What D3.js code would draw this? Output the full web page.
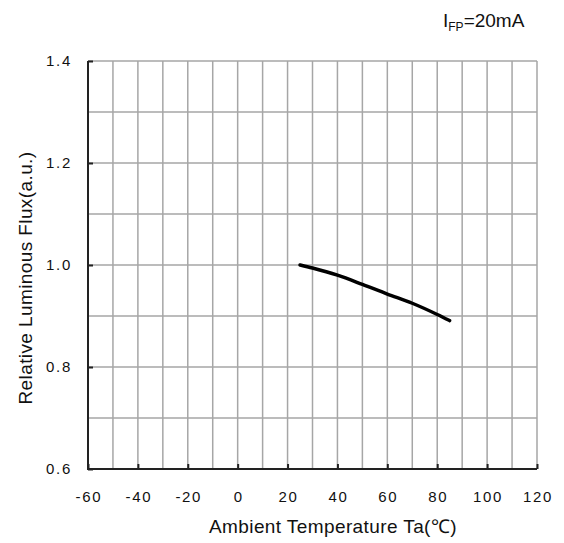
<!DOCTYPE html>
<html>
<head>
<meta charset="utf-8">
<script src="https://cdn.jsdelivr.net/npm/d3@7"></script>
<style>
	body { margin: 0; background: #fff; }
	svg text { font-family: "Liberation Sans", Arial, sans-serif; fill: #111; }
</style>
</head>
<body>
<div class="chart"></div>
<script>
// curve
const temps = [25, 30, 40, 50, 60, 70, 80, 85]
const flux = [1.0, 0.994, 0.980, 0.962, 0.943, 0.925, 0.903, 0.891]

const xTicks = [-60, -40, -20, 0, 20, 40, 60, 80, 100, 120]
const yTicks = [0.6, 0.8, 1.0, 1.2, 1.4]

const width = 564
const height = 543
const margin = { top: 61, right: 27, bottom: 74, left: 88 }

const x = d3.scaleLinear().domain([-60, 120]).range([margin.left, width - margin.right])
const y = d3.scaleLinear().domain([0.6, 1.4]).range([height - margin.bottom, margin.top])

const svg = d3.select('.chart').append('svg')
	.attr('width', width)
	.attr('height', height)

// grid, every 10 deg and every 0.1
const grid = svg.append('g').attr('class', 'grid')
grid.selectAll('line.v')
	.data(d3.range(-50, 121, 10))
	.enter().append('line')
		.attr('class', 'v')
		.attr('x1', d => x(d)).attr('x2', d => x(d))
		.attr('y1', y.range()[0]).attr('y2', y.range()[1])
		.attr('stroke', '#a6a6a6').attr('stroke-width', 1.5)
grid.selectAll('line.h')
	.data(d3.range(1, 9).map(i => 0.6 + i * 0.1))
	.enter().append('line')
		.attr('class', 'h')
		.attr('y1', d => y(d)).attr('y2', d => y(d))
		.attr('x1', x.range()[0]).attr('x2', x.range()[1])
		.attr('stroke', '#a6a6a6').attr('stroke-width', 1.5)

// axes: ticks point inward
const xAxis = svg.append('g')
	.attr('transform', `translate(0, ${y.range()[0]})`)
	.call(d3.axisTop(x).tickValues(xTicks).tickSize(5).tickFormat(''))
xAxis.select('.domain').remove()
xAxis.selectAll('.tick line').attr('stroke', '#222').attr('stroke-width', 2)

const yAxis = svg.append('g')
	.attr('transform', `translate(${x.range()[0]}, 0)`)
	.call(d3.axisRight(y).tickValues(yTicks).tickSize(5).tickFormat(''))
yAxis.select('.domain').remove()
yAxis.selectAll('.tick line').attr('stroke', '#222').attr('stroke-width', 2)

svg.append('line')
	.attr('x1', x.range()[0]).attr('x2', x.range()[1])
	.attr('y1', y.range()[0]).attr('y2', y.range()[0])
	.attr('stroke', '#222').attr('stroke-width', 2)
svg.append('line')
	.attr('x1', x.range()[0]).attr('x2', x.range()[0])
	.attr('y1', y.range()[0] + 1).attr('y2', y.range()[1])
	.attr('stroke', '#222').attr('stroke-width', 2)

// tick labels (source font is wide, so add some spacing)
svg.append('g').selectAll('text')
	.data(xTicks)
	.enter().append('text')
		.attr('x', d => x(d) + 1)
		.attr('y', 502)
		.attr('text-anchor', 'middle')
		.attr('font-size', 15)
		.attr('letter-spacing', 1.7)
		.text(d => d)

svg.append('g').selectAll('text')
	.data(yTicks)
	.enter().append('text')
		.attr('x', 72)
		.attr('y', d => y(d) + 5)
		.attr('text-anchor', 'end')
		.attr('font-size', 15)
		.attr('letter-spacing', 1.7)
		.text(d => d.toFixed(1))

// axis titles
svg.append('text')
	.attr('x', 333)
	.attr('y', 533)
	.attr('text-anchor', 'middle')
	.attr('font-size', 19)
	.attr('letter-spacing', 0.4)
	.text('Ambient Temperature Ta(\u2103)')

svg.append('text')
	.attr('transform', 'translate(32, 278) rotate(-90)')
	.attr('text-anchor', 'middle')
	.attr('font-size', 19)
	.attr('letter-spacing', 0.4)
	.text('Relative Luminous Flux(a.u.)')

const title = svg.append('text')
	.attr('x', 443)
	.attr('y', 27)
	.attr('font-size', 19)
title.append('tspan').text('I')
title.append('tspan').attr('font-size', 12).attr('dy', 4).text('FP')
title.append('tspan').attr('dy', -4).text('=20mA')

// the curve
const line = d3.line()
	.x((d, i) => x(temps[i]))
	.y(d => y(d))
	.curve(d3.curveMonotoneX)

svg.append('path')
	.datum(flux)
	.attr('d', line)
	.attr('fill', 'none')
	.attr('stroke', '#000')
	.attr('stroke-width', 3.5)
	.attr('stroke-linecap', 'round')
</script>
</body>
</html>
